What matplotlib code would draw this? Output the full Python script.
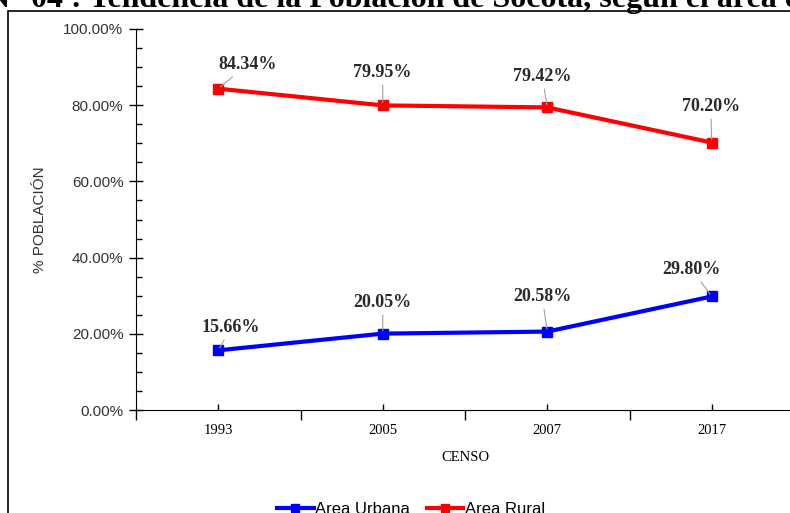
import numpy as np
import matplotlib.pyplot as plt
from matplotlib.patches import Rectangle
from matplotlib.ticker import FixedLocator, PercentFormatter

censos = ['1993', '2005', '2007', '2017']
urbana = [15.66, 20.05, 20.58, 29.80]
rural = [84.34, 79.95, 79.42, 70.20]

# label offsets (pixels) for the value tags
off_urb = [(13, 23), (0, 31), (-5, 35), (-20, 27)]
off_rur = [(29, 24), (0, 33), (-5, 31), (-1, 36)]

narrow = ['Liberation Sans Narrow', 'Liberation Sans']

W, H = 790, 513
fig = plt.figure(figsize=(W/100, H/100), dpi=100)
ax = fig.add_axes([136/W, 103/H, 658/W, 381/H])

x = np.arange(len(censos)) + 0.5
ax.plot(x, urbana, color='#0000ff', lw=3, marker='s', ms=6.5, label='Area Urbana')
ax.plot(x, rural, color='#ff0000', lw=3, marker='s', ms=6.5, label='Area Rural')

for xs, ys, offs in [(x, urbana, off_urb), (x, rural, off_rur)]:
    for xi, yi, (dx, dy) in zip(xs, ys, offs):
        ax.annotate('%.2f%%' % yi, (xi, yi), xytext=(dx, dy), textcoords='offset pixels',
                    ha='center', va='center', fontsize=13, fontweight='bold',
                    family='Liberation Serif', color='#2a2a2a',
                    arrowprops=dict(arrowstyle='-', color='#a0a0a0', lw=0.8,
                                    shrinkA=1, shrinkB=2))

ax.set_xlim(0, 4)
ax.set_ylim(0, 100)
ax.xaxis.set_major_locator(FixedLocator([0, 1, 2, 3, 4]))
ax.xaxis.set_minor_locator(FixedLocator(x))
ax.set_xticklabels([])
ax.set_xticklabels(censos, minor=True, family='Liberation Serif', fontsize=10.5)
ax.tick_params(axis='x', which='major', direction='out', length=7, width=1)
ax.tick_params(axis='x', which='minor', direction='in', length=4, width=1, pad=10)

ax.yaxis.set_major_locator(FixedLocator(np.arange(0, 101, 20)))
ax.yaxis.set_minor_locator(FixedLocator(np.arange(0, 101, 5)))
ax.yaxis.set_major_formatter(PercentFormatter(decimals=2))
ax.tick_params(axis='y', which='major', direction='inout', length=10, width=1, pad=4)
ax.tick_params(axis='y', which='minor', direction='in', length=4, width=1)
for lab in ax.get_yticklabels():
    lab.set_fontfamily(narrow)
    lab.set_fontsize(11)
    lab.set_color('#333333')

for s in ['top', 'right']:
    ax.spines[s].set_visible(False)

ax.set_xlabel('CENSO', family='Liberation Serif', fontsize=10.5, labelpad=10)
fig.text(40/W, 1 - 220/H, '% POBLACIÓN', rotation=90, ha='center', va='center',
         family='Liberation Sans', fontsize=11, color='#333333')

fig.legend(loc='center', bbox_to_anchor=(411/W, 4/H), ncol=2, frameon=False,
           prop={'family': narrow, 'size': 12}, handlelength=2.2,
           handletextpad=0.1, columnspacing=1.0, markerscale=0.8)

fig.patches.append(Rectangle((8/W, -0.1), 1.2, 1.1 - 11/H, transform=fig.transFigure,
                             fill=False, ec='black', lw=1.2))

fig.text(-13/W, 1 - 7/H, 'N° 04 : Tendencia de la Población de Socota, según el área de residencia',
         ha='left', va='baseline', family='Liberation Serif', fontweight='bold', fontsize=23)

fig.savefig('out.png', dpi=100)
